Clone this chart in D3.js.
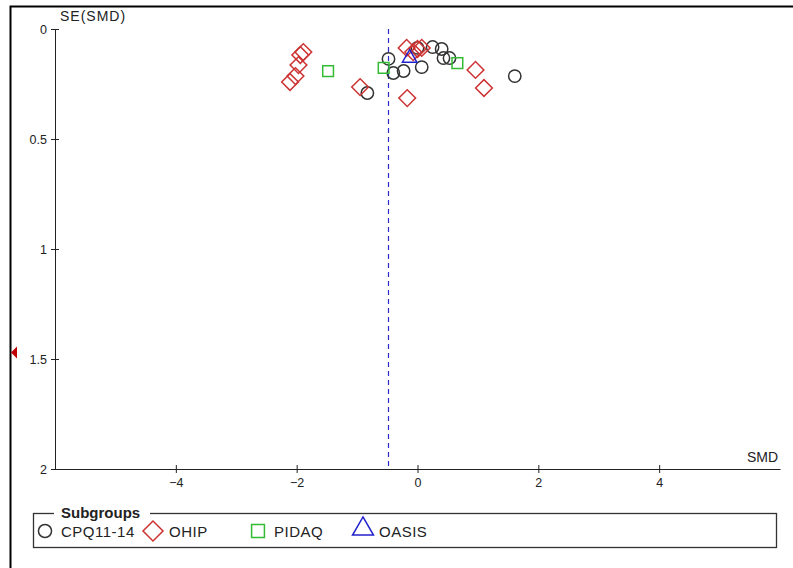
<!DOCTYPE html>
<html>
<head>
<meta charset="utf-8">
<script src="https://cdn.jsdelivr.net/npm/d3@7"></script>
<style>
  body { margin: 0; background: #fff; }
  text { font-family: Arial, "Liberation Sans", sans-serif; }
</style>
</head>
<body>
<div id="wrapper"></div>
<script>
// data: SMD (x) and SE(SMD) (y)
const subgroups = ["CPQ11-14", "OHIP", "PIDAQ", "OASIS"]

const cpqSmd = [-0.48, -0.40, -0.23, 0.07, 0.00, 0.25, 0.40, 0.43, 0.53, -0.83, 1.61]
const cpqSe  = [0.136, 0.200, 0.191, 0.173, 0.086, 0.082, 0.091, 0.132, 0.132, 0.291, 0.214]

const ohipSmd = [-1.89, -1.94, -1.97, -2.02, -2.11, -0.95, -0.17, -0.18, -0.07, 0.00, 0.07, 0.96, 1.10]
const ohipSe  = [0.105, 0.118, 0.164, 0.214, 0.241, 0.264, 0.314, 0.086, 0.105, 0.091, 0.086, 0.186, 0.268]

const pidaqSmd = [-1.48, -0.56, 0.66]
const pidaqSe  = [0.191, 0.177, 0.155]

const oasisSmd = [-0.13]
const oasisSe  = [0.132]

const pooledSmd = -0.48
const markerSe = 1.47

const xTicks = [-4, -2, 0, 2, 4]
const yTicks = [0, 0.5, 1, 1.5, 2]

function drawFunnel() {
  const dimensions = {
    width: 793,
    height: 568,
    margin: { top: 29, right: 13, bottom: 99, left: 55 },
  }
  dimensions.boundedWidth = dimensions.width - dimensions.margin.left - dimensions.margin.right
  dimensions.boundedHeight = dimensions.height - dimensions.margin.top - dimensions.margin.bottom

  const svg = d3.select("#wrapper").append("svg")
    .attr("width", dimensions.width)
    .attr("height", dimensions.height)

  // outer frame
  svg.append("path")
    .attr("d", "M10.5,568 V6.5 H793")
    .attr("fill", "none")
    .attr("stroke", "#000")
    .attr("stroke-width", 2)

  const bounds = svg.append("g")
    .attr("transform", `translate(${dimensions.margin.left},${dimensions.margin.top})`)

  const xScale = d3.scaleLinear()
    .domain([-6, 6])
    .range([0, dimensions.boundedWidth])

  const yScale = d3.scaleLinear()
    .domain([0, 2])
    .range([0, dimensions.boundedHeight])

  // axes
  const xAxis = bounds.append("g")
    .attr("transform", `translate(0,${dimensions.boundedHeight})`)
    .call(d3.axisBottom(xScale).tickValues(xTicks).tickSizeInner(4).tickSizeOuter(0).tickPadding(4))
  const yAxis = bounds.append("g")
    .call(d3.axisLeft(yScale).tickValues(yTicks).tickSizeInner(4).tickSizeOuter(0).tickPadding(4)
      .tickFormat(d => d))

  ;[xAxis, yAxis].forEach(a => {
    a.select(".domain").attr("stroke", "#222")
    a.selectAll(".tick line").attr("stroke", "#222")
    a.selectAll(".tick text").attr("font-size", 12.5).attr("fill", "#222")
      .style("font-family", "Arial, 'Liberation Sans', sans-serif")
  })
  // ticks cross the axis line
  xAxis.selectAll(".tick line").attr("y1", -4).attr("y2", 4)
  yAxis.selectAll(".tick line").attr("x1", -4).attr("x2", 4)
  xAxis.selectAll(".tick text").attr("y", 9)
  yAxis.selectAll(".tick text").attr("x", -8)

  bounds.append("text")
    .attr("x", 5).attr("y", -8)
    .attr("font-size", 14).attr("letter-spacing", 1).attr("fill", "#222")
    .text("SE(SMD)")
  bounds.append("text")
    .attr("x", dimensions.boundedWidth - 2).attr("y", dimensions.boundedHeight - 7)
    .attr("text-anchor", "end")
    .attr("font-size", 14).attr("fill", "#222")
    .text("SMD")

  // pooled estimate line
  bounds.append("line")
    .attr("x1", xScale(pooledSmd)).attr("x2", xScale(pooledSmd))
    .attr("y1", 0).attr("y2", dimensions.boundedHeight)
    .attr("stroke", "#2a2acc")
    .attr("stroke-width", 1.2)
    .attr("stroke-dasharray", "5,4")

  // red marker at left edge
  const my = dimensions.margin.top + yScale(markerSe)
  svg.append("path")
    .attr("d", `M11,${my} L17,${my - 6} L17,${my + 6} Z`)
    .attr("fill", "#c00000")

  const colors = { "CPQ11-14": "#333", "OHIP": "#cc3333", "PIDAQ": "#33bb33", "OASIS": "#2222cc" }
  const symbolType = { "CPQ11-14": d3.symbolCircle, "OHIP": d3.symbolSquare, "PIDAQ": d3.symbolSquare, "OASIS": d3.symbolTriangle }
  const plotSize = { "CPQ11-14": 120, "OHIP": 140, "PIDAQ": 115, "OASIS": 90 }
  const legendSize = { "CPQ11-14": 135, "OHIP": 200, "PIDAQ": 165, "OASIS": 190 }
  const rotate = { "CPQ11-14": 0, "OHIP": 45, "PIDAQ": 0, "OASIS": 0 }

  const series = [
    { name: "CPQ11-14", x: cpqSmd, y: cpqSe },
    { name: "OHIP", x: ohipSmd, y: ohipSe },
    { name: "PIDAQ", x: pidaqSmd, y: pidaqSe },
    { name: "OASIS", x: oasisSmd, y: oasisSe },
  ]

  series.forEach(s => {
    const pts = s.x.map((v, i) => ({ x: v, y: s.y[i] }))
    bounds.append("g").selectAll("path")
      .data(pts)
      .join("path")
        .attr("d", d3.symbol().type(symbolType[s.name]).size(plotSize[s.name])())
        .attr("transform", d => `translate(${xScale(d.x)},${yScale(d.y)}) rotate(${rotate[s.name]})`)
        .attr("fill", "none")
        .attr("stroke", colors[s.name])
        .attr("stroke-width", 1.5)
  })

  // legend
  const legend = svg.append("g")
  legend.append("rect")
    .attr("x", 33.5).attr("y", 513.5)
    .attr("width", 743).attr("height", 34)
    .attr("fill", "none").attr("stroke", "#333").attr("stroke-width", 1.3)
  legend.append("rect")
    .attr("x", 54).attr("y", 505).attr("width", 96).attr("height", 14).attr("fill", "#fff")
  legend.append("text")
    .attr("x", 61).attr("y", 518)
    .attr("font-size", 15).attr("font-weight", "bold").attr("fill", "#222")
    .text("Subgroups")

  const legendX = [45, 153, 258, 363]
  subgroups.forEach((name, i) => {
    legend.append("path")
      .attr("d", d3.symbol().type(symbolType[name]).size(legendSize[name])())
      .attr("transform", `translate(${legendX[i]},${name === "OASIS" ? 529 : 531}) rotate(${rotate[name]})`)
      .attr("fill", "none")
      .attr("stroke", colors[name])
      .attr("stroke-width", 1.5)
    legend.append("text")
      .attr("x", legendX[i] + 16).attr("y", 537)
      .attr("font-size", 15).attr("letter-spacing", 0.5).attr("fill", "#222")
      .text(name)
  })
}
drawFunnel()
</script>
</body>
</html>
